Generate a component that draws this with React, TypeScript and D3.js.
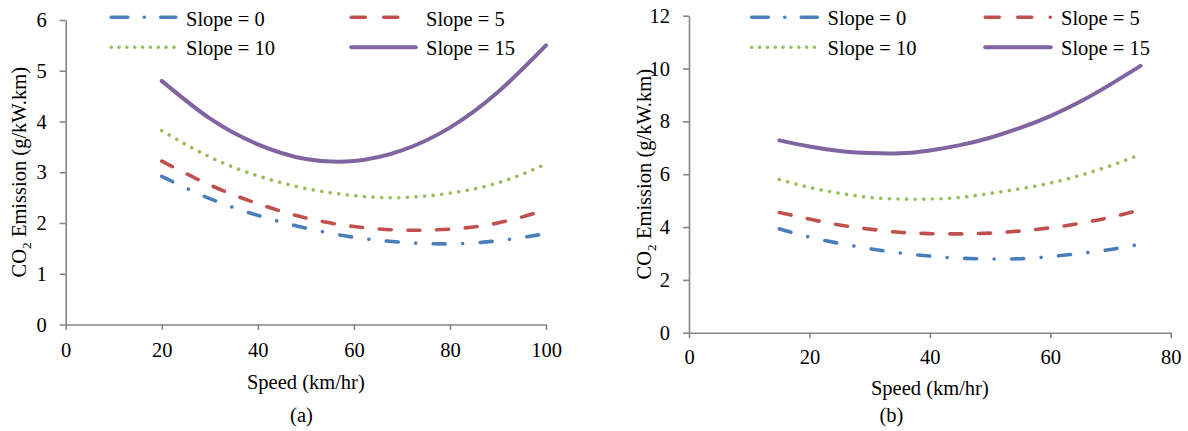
import React, { useEffect, useRef } from "react";
import * as d3 from "d3";

// legend labels, same for both panels
const seriesNames = ["Slope = 0", "Slope = 5", "Slope = 10", "Slope = 15"];

// panel (a)
const speedA = [20, 30, 40, 50, 60, 70, 80, 90, 100];
const slope0A = [2.92, 2.48, 2.15, 1.9, 1.72, 1.62, 1.59, 1.65, 1.79];
const slope5A = [3.22, 2.75, 2.38, 2.1, 1.93, 1.86, 1.88, 2.0, 2.26];
const slope10A = [3.82, 3.3, 2.93, 2.68, 2.54, 2.5, 2.59, 2.79, 3.16];
const slope15A = [4.8, 4.06, 3.55, 3.26, 3.22, 3.43, 3.88, 4.58, 5.5];
const xTicksA = [0, 20, 40, 60, 80, 100];
const yTicksA = [0, 1, 2, 3, 4, 5, 6];

// panel (b)
const speedB = [15, 20, 25, 30, 35, 40, 45, 50, 55, 60, 65, 70, 75];
const slope0B = [3.93, 3.62, 3.38, 3.18, 3.02, 2.9, 2.82, 2.79, 2.8, 2.88, 3.0, 3.15, 3.35];
const slope5B = [4.55, 4.3, 4.08, 3.92, 3.8, 3.75, 3.74, 3.77, 3.85, 3.97, 4.14, 4.37, 4.65];
const slope10B = [5.8, 5.5, 5.28, 5.12, 5.06, 5.06, 5.12, 5.27, 5.45, 5.66, 5.96, 6.32, 6.75];
const slope15B = [7.28, 7.05, 6.88, 6.8, 6.79, 6.9, 7.1, 7.38, 7.75, 8.2, 8.75, 9.4, 10.1];
const xTicksB = [0, 20, 40, 60, 80];
const yTicksB = [0, 2, 4, 6, 8, 10, 12];

const colors = ["#4A7EBB", "#C0504D", "#9BBB59", "#8064A2"];
const plotDash = ["12 17.5 0.01 17.5", "12 16.7", "0.01 8.6", null];
const legendDash = ["16.5 16.5 0.01 16.5", "14 18.5 14 18.5 0.01 100", "0.01 7.83", null];

const FONT = "'Liberation Serif', 'Times New Roman', serif";
const FS = "20.5px";
const AXIS = "#868686";

type Panel = {
  speeds: number[];
  series: number[][];
  xTicks: number[];
  yTicks: number[];
  left: number;
  right: number;
  top: number;
  bottom: number;
  xPad: number;
  titleX: number;
  speedY: number;
  label: string;
  labelX: number;
  legendX: number[];
  legendW: number;
  legendY: number[];
};

const panels: Panel[] = [
  {
    speeds: speedA,
    series: [slope0A, slope5A, slope10A, slope15A],
    xTicks: xTicksA,
    yTicks: yTicksA,
    left: 65.7, right: 546, top: 20, bottom: 324.5,
    xPad: 12, titleX: 26, speedY: 389,
    label: "(a)", labelX: 301.5,
    legendX: [109.5, 349.5], legendW: 68, legendY: [17.3, 47.2],
  },
  {
    speeds: speedB,
    series: [slope0B, slope5B, slope10B, slope15B],
    xTicks: xTicksB,
    yTicks: yTicksB,
    left: 689, right: 1170.7, top: 15.7, bottom: 332.7,
    xPad: 11, titleX: 650.5, speedY: 395,
    label: "(b)", labelX: 891.5,
    legendX: [750, 983.5], legendW: 69, legendY: [17.2, 47.2],
  },
];

function drawPanel(svg: d3.Selection<SVGSVGElement, unknown, null, undefined>, p: Panel) {
  const x = d3.scaleLinear()
    .domain([p.xTicks[0], p.xTicks[p.xTicks.length - 1]])
    .range([p.left, p.right]);
  const y = d3.scaleLinear()
    .domain([p.yTicks[0], p.yTicks[p.yTicks.length - 1]])
    .range([p.bottom, p.top]);

  const g = svg.append("g");

  // axes
  const yAxis = g.append("g")
    .attr("transform", `translate(${p.left},0)`)
    .call(d3.axisLeft(y).tickValues(p.yTicks).tickFormat(d3.format("d"))
      .tickSize(6).tickSizeOuter(0).tickPadding(13));
  const xAxis = g.append("g")
    .attr("transform", `translate(0,${p.bottom})`)
    .call(d3.axisBottom(x).tickValues(p.xTicks).tickFormat(d3.format("d"))
      .tickSize(5.5).tickSizeOuter(0).tickPadding(p.xPad));

  [yAxis, xAxis].forEach(ax => {
    ax.select(".domain").attr("stroke", AXIS).attr("stroke-width", 1.6);
    ax.selectAll(".tick line").attr("stroke", AXIS).attr("stroke-width", 1.6);
    ax.selectAll(".tick text")
      .attr("fill", "#000")
      .style("font-family", FONT)
      .style("font-size", FS);
  });

  // lines
  const line = d3.line<number>()
    .x((_, i) => x(p.speeds[i]))
    .y(d => y(d))
    .curve(d3.curveNatural);

  p.series.forEach((vals, i) => {
    g.append("path")
      .attr("d", line(vals))
      .attr("fill", "none")
      .attr("stroke", colors[i])
      .attr("stroke-width", i === 3 ? 4 : 3.6)
      .attr("stroke-linecap", "round")
      .attr("stroke-dasharray", plotDash[i]);
  });

  // legend
  seriesNames.forEach((name, i) => {
    const lx = p.legendX[i % 2];
    const ly = p.legendY[Math.floor(i / 2)];
    g.append("line")
      .attr("x1", lx + 1.75).attr("x2", lx + p.legendW - 1.75)
      .attr("y1", ly).attr("y2", ly)
      .attr("stroke", colors[i])
      .attr("stroke-width", i === 3 ? 4 : 3.6)
      .attr("stroke-linecap", "round")
      .attr("stroke-dasharray", legendDash[i]);
    g.append("text")
      .attr("x", lx + p.legendW + 8.5)
      .attr("y", ly)
      .attr("dy", "0.4em")
      .style("font-family", FONT)
      .style("font-size", FS)
      .text(name);
  });

  // y title
  const cy = (p.top + p.bottom) / 2;
  const yt = g.append("text")
    .attr("transform", `translate(${p.titleX},${cy}) rotate(-90)`)
    .attr("text-anchor", "middle")
    .style("font-family", FONT)
    .style("font-size", FS);
  yt.append("tspan").text("CO");
  yt.append("tspan").attr("dy", 5).style("font-size", "13.5px").text("2");
  yt.append("tspan").attr("dy", -5).text(" Emission (g/kW.km)");

  // x title + panel label
  g.append("text")
    .attr("x", (p.left + p.right) / 2)
    .attr("y", p.speedY)
    .attr("text-anchor", "middle")
    .style("font-family", FONT)
    .style("font-size", FS)
    .text("Speed (km/hr)");
  g.append("text")
    .attr("x", p.labelX)
    .attr("y", 422)
    .attr("text-anchor", "middle")
    .style("font-family", FONT)
    .style("font-size", FS)
    .text(p.label);
}

const App = () => {
  const ref = useRef<SVGSVGElement>(null);

  useEffect(() => {
    const svg = d3.select(ref.current);
    svg.selectAll("*").remove();
    panels.forEach(p => drawPanel(svg as any, p));
  }, []);

  return (
    <svg
      ref={ref}
      width={1188}
      height={431}
      style={{ position: "absolute", left: 0, top: 0, background: "#fff" }}
    />
  );
};

export default App;
